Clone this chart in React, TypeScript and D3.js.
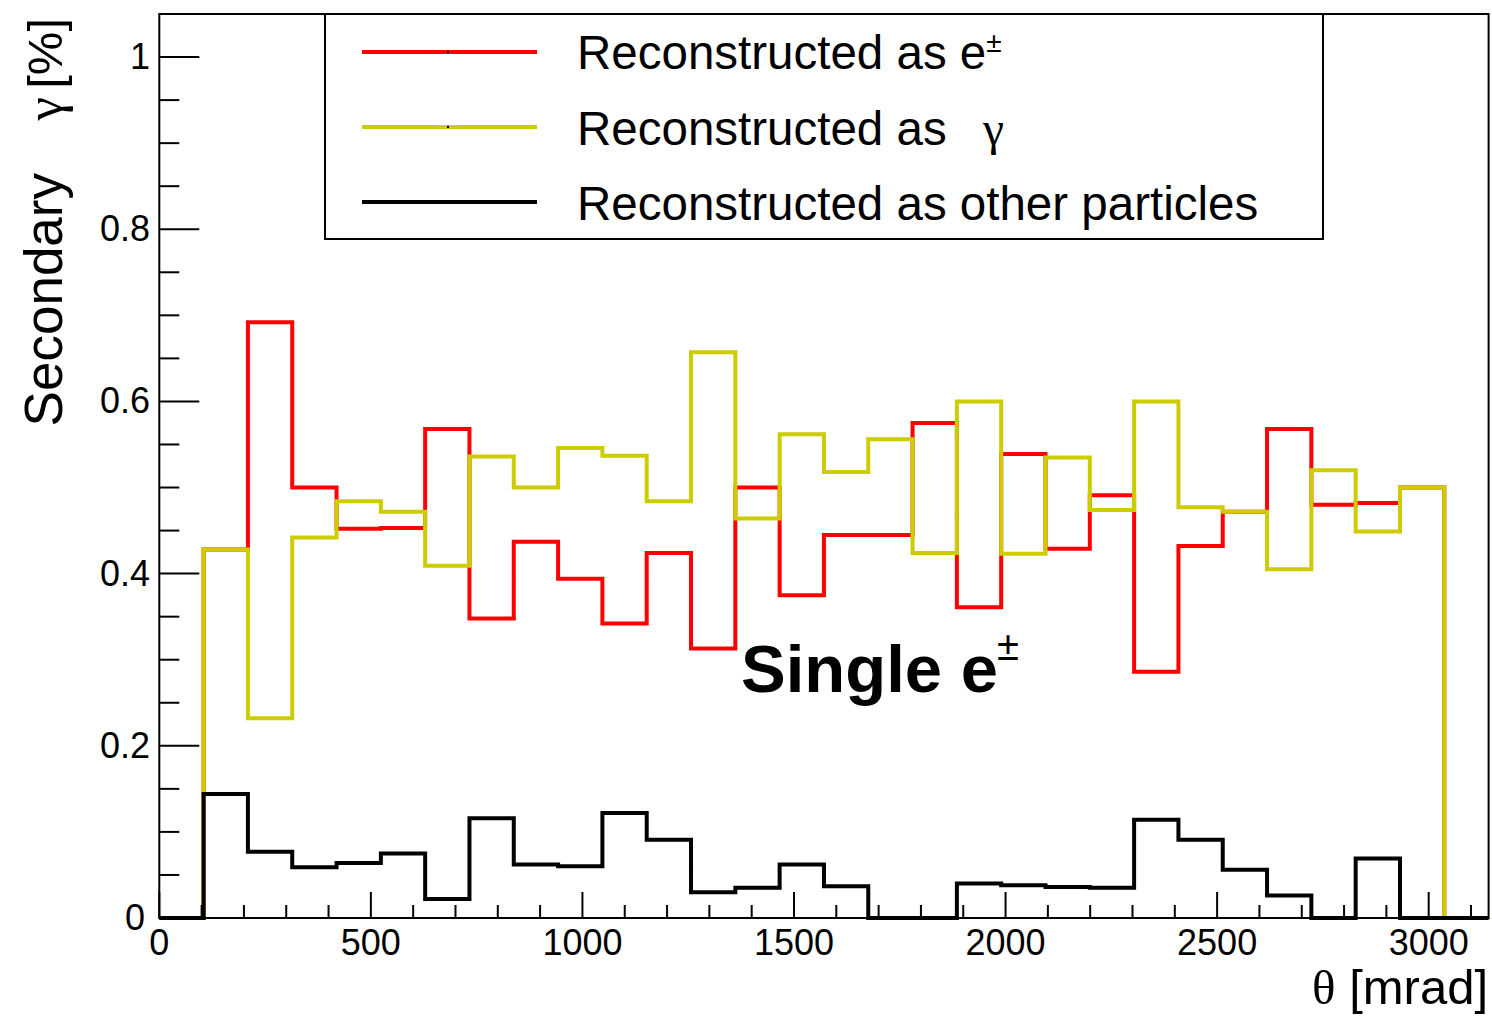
import React from "react";
import * as d3 from "d3";

// 30 bins over [0, pi] rad, in mrad
const thetaMax = 3141.59;
const binCount = 30;

const recoElectron = [0, 0.428, 0.692, 0.5, 0.452, 0.453, 0.568, 0.348, 0.437, 0.394, 0.342, 0.424, 0.313, 0.5, 0.375, 0.445, 0.445, 0.575, 0.361, 0.539, 0.429, 0.491, 0.286, 0.432, 0.472, 0.568, 0.48, 0.482, 0.5, 0];
const recoGamma = [0, 0.428, 0.232, 0.442, 0.484, 0.472, 0.409, 0.536, 0.5, 0.546, 0.537, 0.484, 0.657, 0.464, 0.562, 0.518, 0.556, 0.424, 0.6, 0.423, 0.535, 0.474, 0.6, 0.477, 0.472, 0.405, 0.52, 0.449, 0.5, 0];
const recoOther = [0, 0.144, 0.077, 0.059, 0.064, 0.075, 0.022, 0.116, 0.062, 0.06, 0.122, 0.091, 0.03, 0.035, 0.062, 0.037, 0, 0, 0.04, 0.038, 0.036, 0.035, 0.114, 0.091, 0.056, 0.026, 0, 0.069, 0, 0];

const xTicks = [0, 500, 1000, 1500, 2000, 2500, 3000];
const yTicks = [0, 0.2, 0.4, 0.6, 0.8, 1];

const series = [
  { name: "electron", values: recoElectron, color: "#ff0000" },
  { name: "gamma", values: recoGamma, color: "#cccc00" },
  { name: "other", values: recoOther, color: "#000000" },
];

const sans = "'Liberation Sans', Arial, Helvetica, sans-serif";
const serif = "'Liberation Serif', 'Times New Roman', serif";

const App = () => {
  const width = 1492;
  const height = 1016;
  const left = 159.3;
  const right = 1488.6;
  const top = 14;
  const bottom = 918;

  const x = d3.scaleLinear().domain([0, thetaMax]).range([left, right]);
  const y = d3.scaleLinear().domain([0, 1.05]).range([bottom, top]);

  const binWidth = thetaMax / binCount;
  const edges = d3.range(binCount + 1).map((i) => i * binWidth);

  const stepLine = d3
    .line<[number, number]>()
    .x((d) => x(d[0]))
    .y((d) => y(d[1]))
    .curve(d3.curveStepAfter);

  const histPath = (values: number[]) => {
    const pts: [number, number][] = values.map((v, i) => [edges[i], v]);
    pts.push([edges[binCount], values[binCount - 1]]);
    return stepLine(pts) || "";
  };

  const xMinor = d3.range(0, thetaMax, 100).filter((v) => v % 500 !== 0);
  const yMinor = d3.range(0, 1.0001, 0.05).filter((v) => Math.abs(v * 5 - Math.round(v * 5)) > 1e-6);

  const legendRows = [
    { color: "#ff0000", y: 52 },
    { color: "#cccc00", y: 127 },
    { color: "#000000", y: 202 },
  ];

  return (
    <div style={{ position: "absolute", left: 0, top: 0 }}>
      <svg width={width} height={height} style={{ display: "block", background: "#fff" }}>
        {/* histograms */}
        {series.map((s) => (
          <path
            key={s.name}
            d={histPath(s.values)}
            fill="none"
            stroke={s.color}
            strokeWidth={4}
          />
        ))}

        {/* frame */}
        <rect x={left} y={top} width={right - left} height={bottom - top} fill="none" stroke="#000" strokeWidth={2} />

        {/* x axis ticks */}
        {xTicks.map((t) => (
          <g key={"xt" + t}>
            <line x1={x(t)} x2={x(t)} y1={bottom} y2={bottom - 26} stroke="#000" strokeWidth={2} />
            <text x={x(t)} y={955} textAnchor="middle" fontFamily={sans} fontSize={36}>
              {t}
            </text>
          </g>
        ))}
        {xMinor.map((t) => (
          <line key={"xm" + t} x1={x(t)} x2={x(t)} y1={bottom} y2={bottom - 13} stroke="#000" strokeWidth={2} />
        ))}

        {/* y axis ticks */}
        {yTicks.map((t) => (
          <g key={"yt" + t}>
            <line x1={left} x2={left + 40} y1={y(t)} y2={y(t)} stroke="#000" strokeWidth={2} />
            <text x={t === 0 ? 145 : 150} y={y(t) + 12} textAnchor="end" fontFamily={sans} fontSize={36}>
              {t}
            </text>
          </g>
        ))}
        {yMinor.map((t) => (
          <line key={"ym" + t} x1={left} x2={left + 20} y1={y(t)} y2={y(t)} stroke="#000" strokeWidth={2} />
        ))}

        {/* axis titles */}
        <text x={1488} y={1004} textAnchor="end" fontFamily={sans} fontSize={49}>
          <tspan fontFamily={serif}>θ</tspan> [mrad]
        </text>
        <g transform="translate(62,0) rotate(-90)">
          <text x={-173} y={0} textAnchor="end" fontFamily={sans} fontSize={53}>
            Secondary
          </text>
          <text x={-97} y={0} textAnchor="end" fontFamily={serif} fontSize={53}>
            γ
          </text>
          <text x={-18} y={0} textAnchor="end" fontFamily={sans} fontSize={49}>
            [%]
          </text>
        </g>

        {/* legend */}
        <rect x={325} y={14} width={998} height={225} fill="#fff" stroke="#000" strokeWidth={2} />
        {legendRows.map((r) => (
          <g key={"lg" + r.y}>
            <line x1={362} x2={537} y1={r.y} y2={r.y} stroke={r.color} strokeWidth={4} />
            <circle cx={448} cy={r.y} r={1.2} fill="#000" />
          </g>
        ))}
        <text x={577} y={69} fontFamily={sans} fontSize={47.5}>
          Reconstructed as e
          <tspan fontSize={28} dy={-17}>±</tspan>
        </text>
        <text x={577} y={145} fontFamily={sans} fontSize={47.5}>
          Reconstructed as
          <tspan x={983} fontFamily={serif}>γ</tspan>
        </text>
        <text x={577} y={220} fontFamily={sans} fontSize={47.5}>
          Reconstructed as other particles
        </text>

        {/* annotation */}
        <text x={741} y={692} fontFamily={sans} fontSize={67} fontWeight="bold">
          Single e
        </text>
        <text x={997} y={660} fontFamily={sans} fontSize={40}>
          ±
        </text>
      </svg>
    </div>
  );
};

export default App;
